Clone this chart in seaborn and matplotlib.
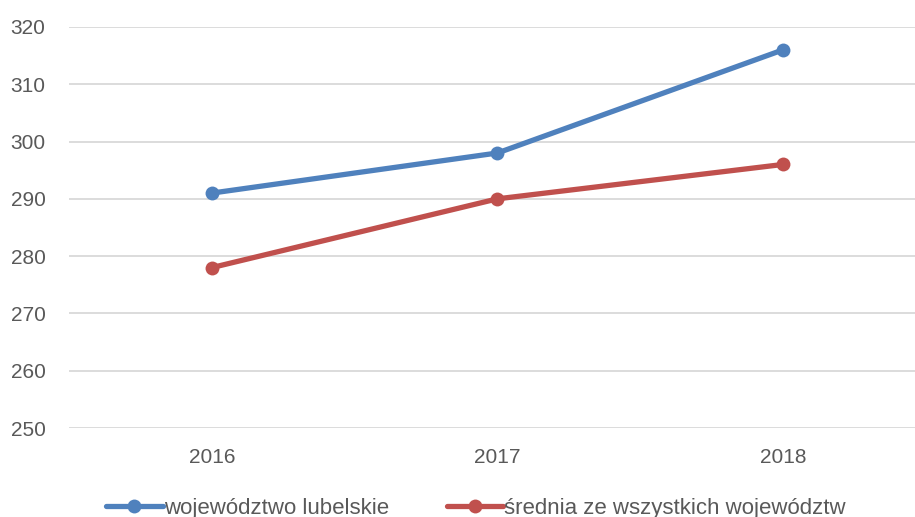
import pandas as pd
import matplotlib
matplotlib.use('Agg')
import matplotlib.pyplot as plt
import seaborn as sns

# Data
years = ['2016', '2017', '2018']
lubelskie = [291, 298, 316]
srednia = [278, 290, 296]
series_names = ['województwo lubelskie', 'średnia ze wszystkich województw']

df = pd.DataFrame({
    'rok': years * 2,
    'wartosc': lubelskie + srednia,
    'seria': [series_names[0]] * 3 + [series_names[1]] * 3,
})

sns.set_style('white')
plt.rcParams['font.family'] = ['Liberation Sans Narrow', 'Liberation Sans', 'DejaVu Sans']

fig = plt.figure(figsize=(9.15, 5.17), dpi=100)
ax = fig.add_axes([0.0754, 0.172, 0.9366, 0.776])

sns.lineplot(data=df, x='rok', y='wartosc', hue='seria', ax=ax,
             palette=['#4F81BD', '#C0504D'], marker='o', markersize=10,
             markeredgewidth=0, linewidth=3.8, sort=False)

ax.set_ylim(250, 320)
ax.set_xlim(-0.5, 2.5)
ax.set_yticks(range(250, 321, 10))
ax.grid(axis='y', color='#D9D9D9', linewidth=1.3)
ax.set_axisbelow(True)
for s in ax.spines.values():
    s.set_visible(False)
ax.set_xlabel('')
ax.set_ylabel('')
ax.tick_params(axis='both', length=0, labelsize=15, labelcolor='#595959')
ax.tick_params(axis='y', pad=17)
ax.tick_params(axis='x', pad=14)

ax.legend(loc='center', bbox_to_anchor=(0.475, -0.2), ncol=2, frameon=False,
          fontsize=16, labelcolor='#595959', handlelength=2.55,
          handletextpad=0.05, columnspacing=2.6)

fig.savefig('out.png', dpi=100)
